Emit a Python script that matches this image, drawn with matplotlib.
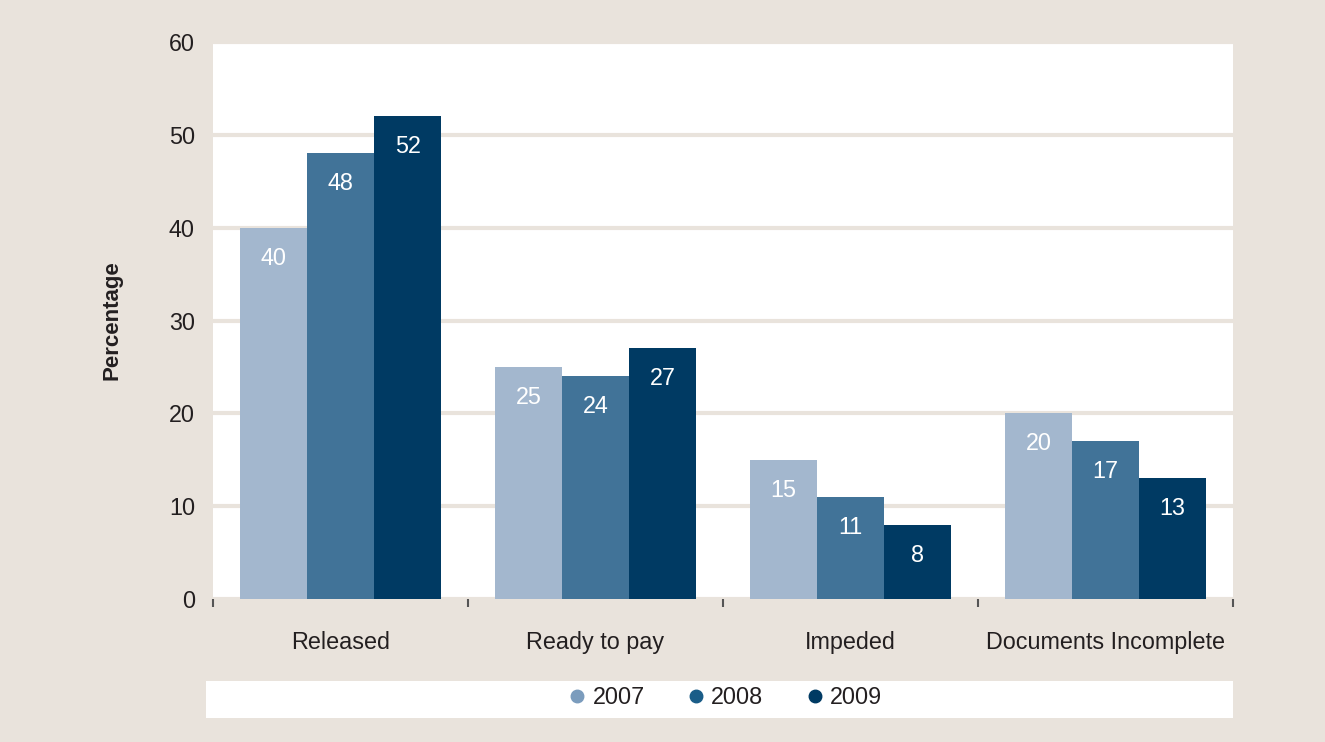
import matplotlib
matplotlib.use("Agg")
import matplotlib.pyplot as plt
from matplotlib.lines import Line2D
from matplotlib.patches import Rectangle
import numpy as np

plt.rcParams["font.family"] = ["Liberation Sans", "DejaVu Sans"]

categories = ["Released", "Ready to pay", "Impeded", "Documents Incomplete"]
years = ["2007", "2008", "2009"]
values = {
    "2007": [40, 25, 15, 20],
    "2008": [48, 24, 11, 17],
    "2009": [52, 27, 8, 13],
}
bar_colors = ["#a3b7ce", "#417398", "#003a63"]
legend_colors = ["#7b9cbd", "#1a5d88", "#003a63"]

bg = "#e9e3dc"
text_col = "#231f20"
fs = 16.8

fig = plt.figure(figsize=(13.25, 7.42), dpi=100, facecolor=bg)
ax = fig.add_axes([213 / 1325, 1 - 599 / 742, 1020 / 1325, 557 / 742])
ax.set_facecolor("white")

x = np.arange(len(categories))
width = 0.263
for i, yr in enumerate(years):
    pos = x + (i - 1) * width
    bars = ax.bar(pos, values[yr], width, color=bar_colors[i], zorder=3)
    for b, v in zip(bars, values[yr]):
        ax.annotate(str(v), (b.get_x() + b.get_width() / 2, v),
                    xytext=(0, -22), textcoords="offset points",
                    ha="center", va="center", color="white", fontsize=fs, zorder=4)

ax.set_xlim(-0.5, len(categories) - 0.5)
ax.set_ylim(0, 60)
ax.set_yticks(range(0, 61, 10))
ax.yaxis.grid(True, color=bg, linewidth=3, zorder=1)
ax.set_axisbelow(True)
for s in ax.spines.values():
    s.set_visible(False)

ax.tick_params(axis="y", length=0, labelsize=fs, labelcolor=text_col, pad=13)
ax.set_xticks(x)
ax.set_xticklabels(categories)
ax.tick_params(axis="x", which="major", length=0, labelsize=fs, labelcolor=text_col, pad=23)
ax.set_xticks(np.arange(-0.5, len(categories)), minor=True)
ax.tick_params(axis="x", which="minor", length=6, width=1.5, color="#555555")

ax.set_ylabel("Percentage", fontsize=16, fontweight="bold", color=text_col, labelpad=33)

# legend strip
fig.patches.append(Rectangle((206 / 1325, 1 - 718 / 742), 1027 / 1325, 37 / 742,
                             transform=fig.transFigure, facecolor="white",
                             edgecolor="none", zorder=0))
handles = [Line2D([], [], marker="o", linestyle="none", markersize=9,
                  markerfacecolor=c, markeredgecolor=c) for c in legend_colors]
fig.legend(handles, years, loc="center", bbox_to_anchor=(725 / 1325, 1 - 698 / 742),
           ncol=3, frameon=False, fontsize=fs, handlelength=0.8, handletextpad=0.25,
           columnspacing=1.8, labelcolor=text_col)

fig.savefig("out.png", dpi=100, facecolor=bg)
